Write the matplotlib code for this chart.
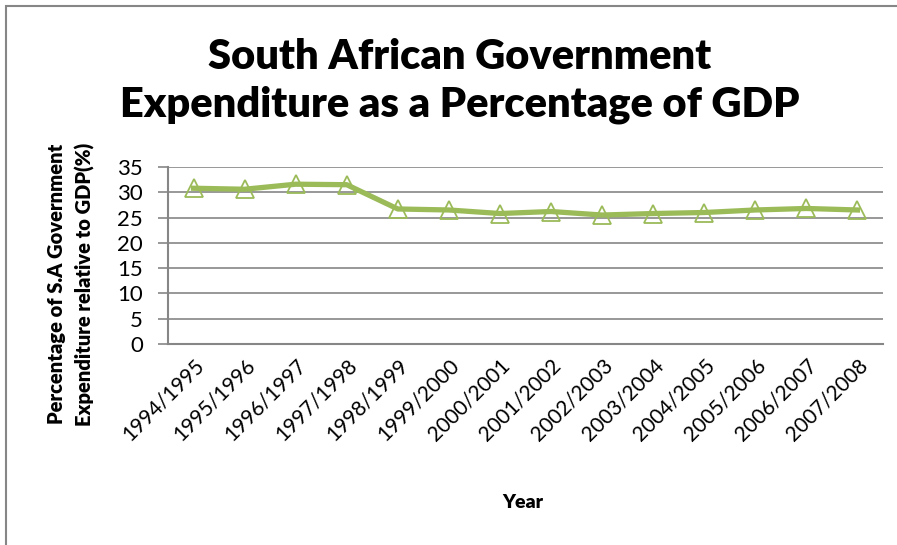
import matplotlib.pyplot as plt
from matplotlib.patches import Rectangle

# data
years = ["1994/1995", "1995/1996", "1996/1997", "1997/1998", "1998/1999",
         "1999/2000", "2000/2001", "2001/2002", "2002/2003", "2003/2004",
         "2004/2005", "2005/2006", "2006/2007", "2007/2008"]
spending = [30.8, 30.6, 31.6, 31.5, 26.7, 26.5, 25.8, 26.2, 25.5, 25.8,
            26.0, 26.5, 26.8, 26.5]
y_ticks = [0, 5, 10, 15, 20, 25, 30, 35]

plt.rcParams["font.family"] = ["Lato", "DejaVu Sans"]

fig = plt.figure(figsize=(8.97, 5.45), dpi=100)
fig.patches.append(Rectangle((6 / 897, -0.05), 1.0, 1 - 6 / 545 + 0.05,
                             transform=fig.transFigure, fill=False,
                             edgecolor="#868686", linewidth=1.5))

ax = fig.add_axes([168 / 897, 1 - 344 / 545, (883 - 168) / 897, (344 - 167) / 545])
x = list(range(len(years)))
ax.plot(x, spending, color="#9BBB59", linewidth=3.8, marker="^",
        markersize=13, markerfacecolor="none", markeredgecolor="#9BBB59",
        markeredgewidth=1.3)

ax.set_xlim(-0.5, len(years) - 0.5)
ax.set_ylim(0, 35)
ax.set_yticks(y_ticks)
ax.set_xticks(x)
ax.set_xticklabels(years, rotation=45, ha="right", rotation_mode="anchor")
ax.tick_params(axis="x", length=0, pad=8, labelsize=15)
ax.tick_params(axis="y", length=7, width=1.2, color="#868686", labelsize=16, pad=11)
ax.grid(axis="y", color="#868686", linewidth=1.2)
ax.set_axisbelow(True)
for s in ["top", "right"]:
    ax.spines[s].set_visible(False)
for s in ["left", "bottom"]:
    ax.spines[s].set_color("#868686")
    ax.spines[s].set_linewidth(1.5)

fig.text(460 / 897, 1 - 81 / 545,
         "South African Government\nExpenditure as a Percentage of GDP",
         ha="center", va="center", fontsize=30, fontweight="heavy",
         linespacing=1.3)
fig.text(71 / 897, 1 - 284 / 545,
         "Percentage of S.A Government\nExpenditure relative to GDP(%)",
         ha="center", va="center", rotation=90, fontsize=14.5,
         fontweight="heavy", linespacing=1.5)
fig.text(523 / 897, 1 - 503 / 545, "Year", ha="center", va="center",
         fontsize=14, fontweight="heavy")

fig.savefig("out.png", dpi=100)
